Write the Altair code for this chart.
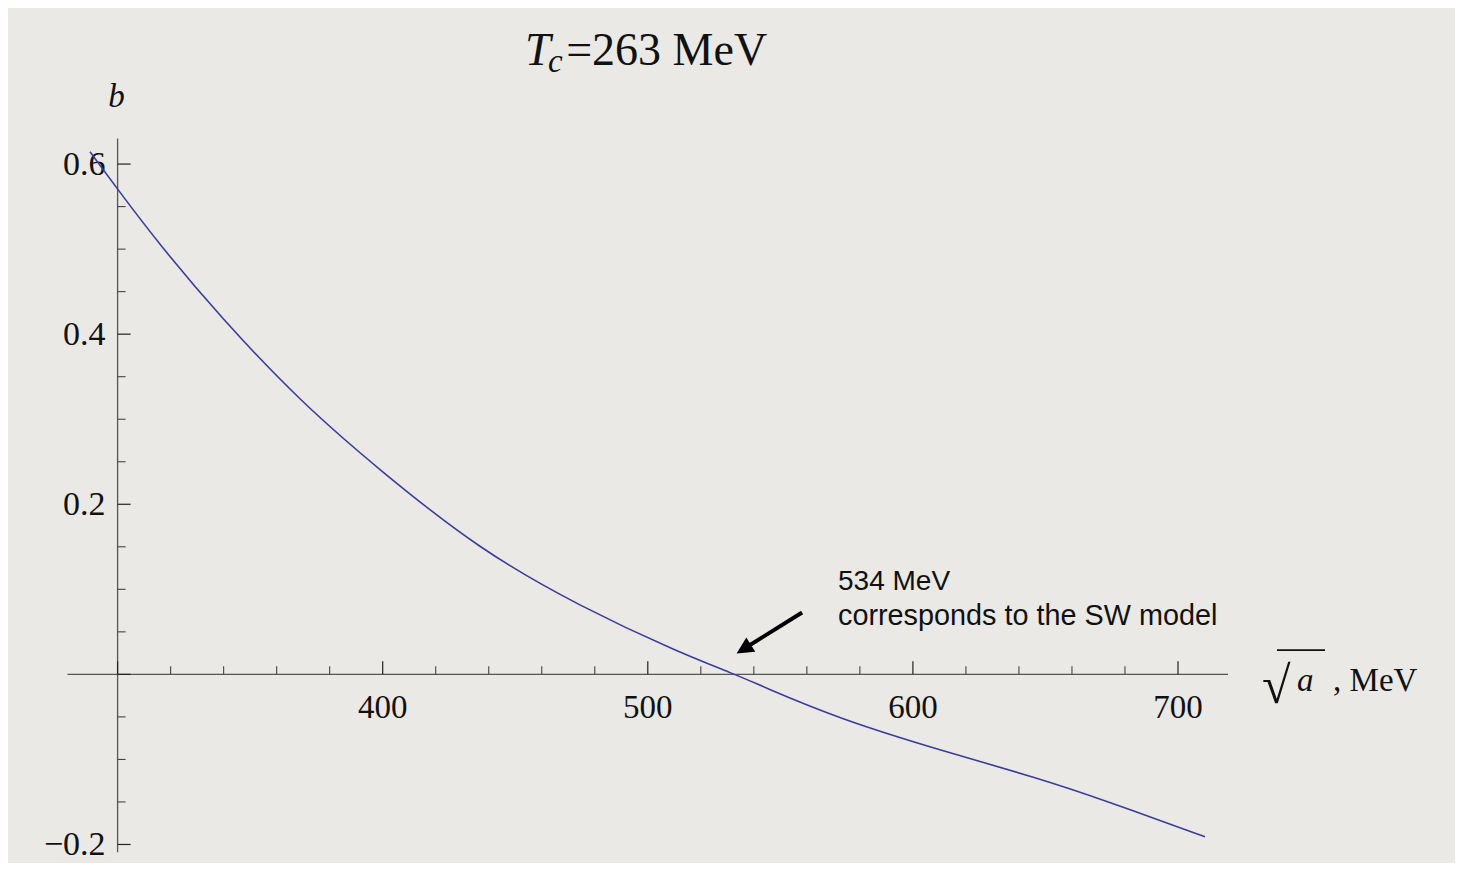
import altair as alt
import pandas as pd

# ---- curve: sqrt(a) [MeV] vs b ----
sqrt_a = [289.6, 299.9, 316.0, 338.6, 368.8, 399.0, 436.7, 474.4, 512.1, 533.0,
          542.3, 572.5, 610.2, 647.9, 670.6, 710.2]
b_vals = [0.6144, 0.5708, 0.5045, 0.4208, 0.3210, 0.2396, 0.1461, 0.0798, 0.0252, 0.0,
          -0.0129, -0.0526, -0.0890, -0.1225, -0.1461, -0.1910]

# ---- axes ----
x_major_ticks = [300, 400, 500, 600, 700]
x_minor_ticks = [320, 340, 360, 380, 420, 440, 460, 480, 520, 540, 560, 580,
                 620, 640, 660, 680]
x_label_values = [400, 500, 600, 700]
x_label_texts = ["400", "500", "600", "700"]

y_major_ticks = [-0.2, 0.0, 0.2, 0.4, 0.6]
y_minor_ticks = [-0.15, -0.1, -0.05, 0.05, 0.1, 0.15, 0.25, 0.3, 0.35, 0.45, 0.5, 0.55]
y_label_values = [-0.2, 0.2, 0.4, 0.6]
y_label_texts = ["\u22120.2", "0.2", "0.4", "0.6"]

x_axis_span = [281.1, 718.9]
y_axis_span = [-0.209, 0.630]
origin = [300, 0.0]

# ---- annotations (data coordinates) ----
title_texts = ["T", "c", "=263 MeV"]
title_x = [453.7, 462.4, 469.2]
title_y = [0.7169, 0.7087, 0.7169]

ylab_text = ["b"]
ylab_x = [299.6]
ylab_y = [0.6666]

note_texts = ["534 MeV", "corresponds to the SW model"]
note_x = [571.75, 571.75]
note_y = [0.0997, 0.0575]

arrow_x = [558.2, 537.8]
arrow_y = [0.0728, 0.0331]
arrowhead_x = [536.85]
arrowhead_y = [0.0311]

rad_x = [731.7]
rad_y = [-0.0340]
rad_bar_x = [737.35, 755.46]
rad_bar_y = [0.0284]
avar_x = [744.9]
avar_y = [-0.0195]
unit_x = [758.5]
unit_y = [-0.0195]

X_DOMAIN = [258.66, 804.49]
Y_DOMAIN = [-0.2159, 0.7835]

BG = "#EBE9E6"
SERIF = "Liberation Serif, Times New Roman, serif"
SANS = "Liberation Sans, Arial, sans-serif"

xs = alt.Scale(domain=X_DOMAIN, nice=False, zero=False)
ys = alt.Scale(domain=Y_DOMAIN, nice=False, zero=False)


def X(f):
    return alt.X(f, type="quantitative", scale=xs, axis=None)


def Y(f):
    return alt.Y(f, type="quantitative", scale=ys, axis=None)


curve_df = pd.DataFrame({"a": sqrt_a, "b": b_vals})
curve = alt.Chart(curve_df).mark_line(color="#3c3c9c", strokeWidth=1.6, interpolate="basis").encode(
    x=X("a"), y=Y("b"), order="a:Q")

xaxis = alt.Chart(pd.DataFrame({"x": [x_axis_span[0]], "x2": [x_axis_span[1]], "y": [origin[1]]})
                  ).mark_rule(color="#555555", strokeWidth=1.3).encode(x=X("x"), x2="x2", y=Y("y"))
yaxis = alt.Chart(pd.DataFrame({"y": [y_axis_span[0]], "y2": [y_axis_span[1]], "x": [origin[0]]})
                  ).mark_rule(color="#555555", strokeWidth=1.3).encode(y=Y("y"), y2="y2", x=X("x"))

xmaj_df = pd.DataFrame({"v": x_major_ticks, "z": [origin[1]] * len(x_major_ticks)})
xmin_df = pd.DataFrame({"v": x_minor_ticks, "z": [origin[1]] * len(x_minor_ticks)})
xmaj = alt.Chart(xmaj_df).mark_rule(color="#222222", strokeWidth=1.2, y2Offset=-13).encode(
    x=X("v"), y=Y("z"), y2="z")
xmin = alt.Chart(xmin_df).mark_rule(color="#444444", strokeWidth=1.1, y2Offset=-8).encode(
    x=X("v"), y=Y("z"), y2="z")

ymaj_df = pd.DataFrame({"v": y_major_ticks, "z": [origin[0]] * len(y_major_ticks)})
ymin_df = pd.DataFrame({"v": y_minor_ticks, "z": [origin[0]] * len(y_minor_ticks)})
ymaj = alt.Chart(ymaj_df).mark_rule(color="#222222", strokeWidth=1.2, x2Offset=13).encode(
    y=Y("v"), x=X("z"), x2="z")
ymin = alt.Chart(ymin_df).mark_rule(color="#444444", strokeWidth=1.1, x2Offset=8).encode(
    y=Y("v"), x=X("z"), x2="z")

xlab_df = pd.DataFrame({"v": x_label_values, "t": x_label_texts, "z": [origin[1]] * 4})
xlabels = alt.Chart(xlab_df).mark_text(font=SERIF, fontSize=33, color="#111111", align="center",
                                       baseline="alphabetic", dy=44).encode(
    x=X("v"), y=Y("z"), text="t:N")

ylab_df = pd.DataFrame({"v": y_label_values, "t": y_label_texts, "z": [origin[0]] * 4})
ylabels = alt.Chart(ylab_df).mark_text(font=SERIF, fontSize=34, color="#111111", align="right",
                                       baseline="middle", dx=-12, dy=1).encode(
    x=X("z"), y=Y("v"), text="t:N")

# title pieces
t_df = pd.DataFrame({"x": title_x, "y": title_y, "t": title_texts})
title_T = alt.Chart(t_df.iloc[[0]]).mark_text(font=SERIF, fontSize=46, fontStyle="italic", align="left",
                                              baseline="alphabetic", color="#111111").encode(
    x=X("x"), y=Y("y"), text="t:N")
title_c = alt.Chart(t_df.iloc[[1]]).mark_text(font=SERIF, fontSize=33, fontStyle="italic", align="left",
                                              baseline="alphabetic", color="#111111").encode(
    x=X("x"), y=Y("y"), text="t:N")
title_rest = alt.Chart(t_df.iloc[[2]]).mark_text(font=SERIF, fontSize=46, align="left",
                                                 baseline="alphabetic", color="#111111").encode(
    x=X("x"), y=Y("y"), text="t:N")

blabel = alt.Chart(pd.DataFrame({"x": ylab_x, "y": ylab_y, "t": ylab_text})).mark_text(
    font=SERIF, fontSize=33, fontStyle="italic", align="center", baseline="alphabetic",
    color="#111111").encode(x=X("x"), y=Y("y"), text="t:N")

# x-axis label  sqrt(a), MeV
rad = alt.Chart(pd.DataFrame({"x": rad_x, "y": rad_y, "t": ["\u221a"]})).mark_text(
    font=SERIF, fontSize=52, align="left", baseline="alphabetic", color="#111111").encode(
    x=X("x"), y=Y("y"), text="t:N")
rad_bar = alt.Chart(pd.DataFrame({"x": [rad_bar_x[0]], "x2": [rad_bar_x[1]], "y": rad_bar_y})).mark_rule(
    color="#111111", strokeWidth=1.8).encode(x=X("x"), x2="x2", y=Y("y"))
avar = alt.Chart(pd.DataFrame({"x": avar_x, "y": avar_y, "t": ["a"]})).mark_text(
    font=SERIF, fontSize=33, fontStyle="italic", align="left", baseline="alphabetic",
    color="#111111").encode(x=X("x"), y=Y("y"), text="t:N")
unit = alt.Chart(pd.DataFrame({"x": unit_x, "y": unit_y, "t": [", MeV"]})).mark_text(
    font=SERIF, fontSize=33, align="left", baseline="alphabetic", color="#111111").encode(
    x=X("x"), y=Y("y"), text="t:N")

# note and arrow
note1 = alt.Chart(pd.DataFrame({"x": [note_x[0]], "y": [note_y[0]], "t": [note_texts[0]]})).mark_text(
    font=SANS, fontSize=28, align="left", baseline="alphabetic", color="#111111").encode(
    x=X("x"), y=Y("y"), text="t:N")
note2 = alt.Chart(pd.DataFrame({"x": [note_x[1]], "y": [note_y[1]], "t": [note_texts[1]]})).mark_text(
    font=SANS, fontSize=28.8, align="left", baseline="alphabetic", color="#111111").encode(
    x=X("x"), y=Y("y"), text="t:N")

shaft = alt.Chart(pd.DataFrame({"x": arrow_x, "y": arrow_y, "o": [0, 1]})).mark_line(
    color="#000000", strokeWidth=4).encode(x=X("x"), y=Y("y"), order="o:Q")
head = alt.Chart(pd.DataFrame({"x": arrowhead_x, "y": arrowhead_y})).mark_point(
    shape="M0,-1L0.8,0.6L-0.8,0.6Z", size=440, filled=True, color="#000000", opacity=1,
    angle=237.8).encode(x=X("x"), y=Y("y"))

chart = alt.layer(
    xaxis, yaxis, xmin, xmaj, ymin, ymaj, xlabels, ylabels,
    curve, title_T, title_c, title_rest, blabel, rad, rad_bar, avar, unit,
    note1, note2, shaft, head
).properties(
    width=1447, height=855, padding=0, background=BG,
    autosize=alt.AutoSizeParams(type="fit", contains="padding"),
).configure_view(stroke="transparent")

chart.save("out.html", embed_options={"renderer": "svg", "actions": False})
